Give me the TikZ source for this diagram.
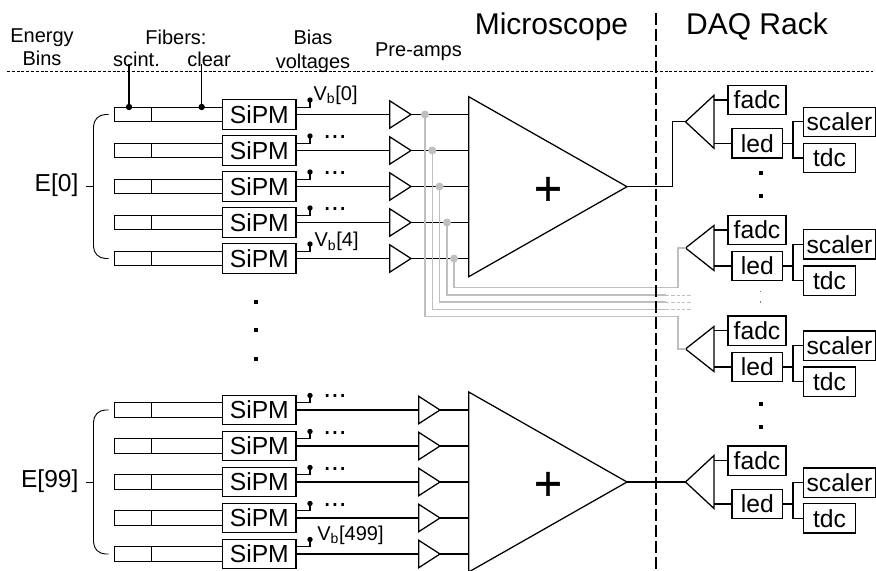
\documentclass[tikz,border=0pt]{standalone}
\usepackage{fontspec}
\setmainfont{Liberation Sans}
\newfontfamily\plusfont[FakeBold = 0.8]{Liberation Sans}
\usetikzlibrary{shapes.geometric}
\tikzset{
    small text/.style = {anchor = base, inner sep = 0, font = \fontsize{15}{18}\selectfont},
    large text/.style = {anchor = base, inner sep = 0, font = \fontsize{22.5}{26}\selectfont},
    bin text/.style = {anchor = base east, inner sep = 0, font = \fontsize{18.4}{22}\selectfont},
    plus text/.style = {inner sep = 0, font = \plusfont\fontsize{36}{40}\selectfont},
    fiber box/.style = {draw, inner sep = 0, minimum height = 11pt},
    unit box/.style = {draw, inner sep = 0, minimum height = 22pt, font = \fontsize{18.5}{22}\selectfont},
    amp/.style = {draw, isosceles triangle, isosceles triangle stretches, inner sep = 0, outer sep = 0, anchor = apex},
    splitter/.style = {amp, shape border rotate = 180},
    tap line/.style = {gray!50, line width = 1pt},
    tap dot/.style = {fill = gray!50, draw = none},
    square dot/.style = {fill, inner sep = 0, minimum size = #1}
}
\begin{document}
\begin{tikzpicture}[x = 0.75pt, y = -0.75pt, line width = 0.95pt]
    \useasboundingbox (0, 0) rectangle (876, 571);
    \node [small text] (energy) at (42, 42) {Energy};
    \node [small text] (bins) at (42, 65) {Bins};
    \node [small text] (fibers) at (176, 44) {Fibers:};
    \node [small text] (scint) at (136.5, 66) {scint.};
    \node [small text] (clear) at (209, 66) {clear};
    \node [small text] (bias) at (313, 45) {Bias};
    \node [small text] (voltages) at (313, 68) {voltages};
    \node [small text] (preamps) at (418.5, 56) {Pre-amps};
    \node [large text] (microscope) at (551.5, 35) {Microscope};
    \node [large text] (daq) at (757, 35) {DAQ Rack};
    \draw [line width = 0.6pt, dash pattern = on 2.2pt off 1.4pt] (7, 71) -- (873, 71);
    \node [amp, minimum width = 135pt, minimum height = 118.7pt] (summer1) at (627, 186.7) {};
    \node [amp, minimum width = 135pt, minimum height = 118.7pt] (summer2) at (627, 482) {};
    \node [plus text] (plus1) at (548, 191) {+};
    \node [plus text] (plus2) at (548, 486) {+};
    \foreach \i/\y/\ax/\s in {1/114.5/411/1, 2/150.5/411/1, 3/186.5/411/1, 4/222.5/411/1, 5/258.5/411/1,
                              6/410/440/2, 7/446/440/2, 8/482/440/2, 9/518/440/2, 10/554/440/2} {
        \node [fiber box, minimum width = 27.5pt] (sc\i) at (133, \y) {};
        \node [fiber box, minimum width = 53.5pt] (cl\i) at (187, \y) {};
        \node [unit box, minimum width = 55pt] (sipm\i) at (259.3, \y) {SiPM};
        \node [amp, minimum width = 20.6pt, minimum height = 16pt] (amp\i) at (\ax, \y) {};
        \coordinate (vb\i) at (310, \y - 14.5);
        \draw ([yshift = 5.4pt] sipm\i.east) -| (vb\i);
        \draw [fill] (vb\i) circle [radius = 2];
        \draw (sipm\i.east) -- (sipm\i.east -| amp\i.left corner);
        \draw (amp\i.apex) -- (amp\i.apex -| summer\s.left corner);
    }
    \coordinate (scinttop) at (129, 64);
    \coordinate (scintend) at (129, 107);
    \coordinate (cleartop) at (201.7, 64);
    \coordinate (clearend) at (201.7, 107);
    \draw (scinttop) -- (scintend);
    \draw (cleartop) -- (clearend);
    \draw [fill] (scintend) circle [radius = 2.5];
    \draw [fill] (clearend) circle [radius = 2.5];
    \node [small text, anchor = base west] (vb0text) at (313, 100) {V\textsubscript{b}[0]};
    \node [small text, anchor = base west] (vb4text) at (314, 246.7) {V\textsubscript{b}[4]};
    \node [small text, anchor = base west] (vb499text) at (316.7, 540) {V\textsubscript{b}[499]};
    \foreach \y [count = \i] in {138, 174, 210, 397.5, 434, 470, 506} {
        \node [anchor = base, inner sep = 0, font = \fontsize{21}{24}\selectfont] (more\i) at (335, \y) {...};
    }
    \foreach \y/\b/\e/\t [count = \i] in {114.5/258.5/186.5/E[0], 410/554/482/E[99]} {
        \coordinate (bracetop\i) at (108.5, \y);
        \coordinate (bracelow\i) at (108.5, \b);
        \coordinate (bracemid\i) at (93.5, \e);
        \coordinate (bracetick\i) at (86, \e);
        \draw [line width = 0.7pt, rounded corners = 9pt] (bracetop\i) -- (93.5, \y) -- (93.5, \b) -- (bracelow\i);
        \draw [line width = 0.7pt] (bracetick\i) -- (bracemid\i);
        \node [bin text] (bin\i) at (79, \e + 5) {\t};
    }
    \node [square dot = 3pt] (gap1) at (255.7, 302) {};
    \node [square dot = 3pt] (gap2) at (255.7, 330) {};
    \node [square dot = 3pt] (gap3) at (255.7, 359) {};
    \foreach \a/\f/\l/\s/\t/\h [count = \i] in {121.8/100/143.3/121.8/158/39.8, 248/230/266/244.3/280.7/33.8,
                                                349/330.7/367/345.7/381.7/33.8, 482/460.7/504/482.7/518.3/39.8} {
        \node [splitter, minimum width = \h pt, minimum height = 21.4pt] (split\i) at (685.5, \a) {};
        \node [unit box, minimum width = 43.5pt] (fadc\i) at (757, \f) {fadc};
        \node [unit box, minimum width = 38pt] (led\i) at (757.3, \l) {led};
        \node [unit box, minimum width = 53.5pt] (scaler\i) at (839.5, \s) {scaler};
        \node [unit box, minimum width = 38.5pt] (tdc\i) at (829.5, \t) {tdc};
        \coordinate (fork\i) at (793, \l);
        \draw (fadc\i.west) -- (fadc\i.west -| split\i.left corner);
        \draw (led\i.west) -- (led\i.west -| split\i.left corner);
        \draw (led\i.east) -- (fork\i);
        \draw (scaler\i.west) -| (fork\i) |- (tdc\i.west);
    }
    \coordinate (bend1) at (672.3, 186.7);
    \draw (summer1.apex) -- (bend1) |- (split1.apex);
    \draw (summer2.apex) -- (split4.apex);
    \node [square dot = 3pt] (rack1) at (760.7, 173) {};
    \node [square dot = 3pt] (rack2) at (760.7, 196) {};
    \node [square dot = 1pt, gray] (rack3) at (760.7, 291.7) {};
    \node [square dot = 1pt, gray] (rack4) at (760.7, 302) {};
    \node [square dot = 3pt] (rack5) at (760.7, 404) {};
    \node [square dot = 3pt] (rack6) at (760.7, 427) {};
    \foreach \x/\y/\r [count = \i] in {425/114.5/1, 432.3/150.5/2, 439.5/186.5/3, 447/222.5/4, 454/258.5/5} {
        \coordinate (tap\r) at (\x, \y);
        \draw [tap dot] (tap\r) circle [radius = 4];
    }
    \draw [tap line] (tap5) |- (678, 287.7) |- (split2.apex);
    \draw [tap line] (tap1) |- (678, 316.7) |- (split3.apex);
    \foreach \r/\y in {2/309.3, 3/302, 4/295} {
        \coordinate (tapend\r) at (666, \y);
        \coordinate (tapfade\r) at (692, \y);
        \draw [tap line] (tap\r) |- (tapend\r);
        \draw [tap line, line width = 0.7pt, dash pattern = on 2.5pt off 1.5pt] (tapend\r) -- (tapfade\r);
    }
    \coordinate (splittop) at (656, 13);
    \coordinate (splitlow) at (656, 571);
    \draw [line width = 1.1pt, dash pattern = on 9pt off 3pt] (splittop) -- (splitlow);
\end{tikzpicture}
\end{document}
